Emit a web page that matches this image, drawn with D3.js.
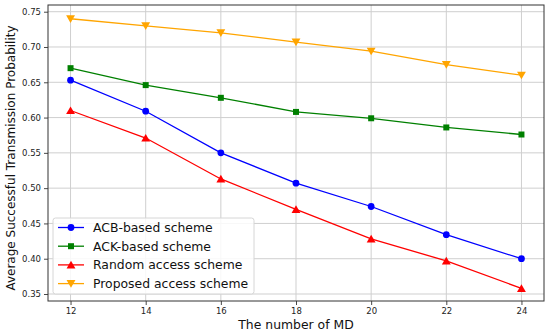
<!DOCTYPE html>
<html>
<head>
<meta charset="utf-8">
<script src="https://cdn.jsdelivr.net/npm/d3@7"></script>
<style>
  body { margin: 0; background: #fff; }
  svg { font-family: "DejaVu Sans", sans-serif; }
</style>
</head>
<body>
<svg id="chart" width="550" height="335"></svg>
<script>
// data
const mdCounts = [12, 14, 16, 18, 20, 22, 24]
const acbScheme = [0.653, 0.609, 0.550, 0.507, 0.474, 0.434, 0.400]
const ackScheme = [0.670, 0.646, 0.628, 0.608, 0.599, 0.586, 0.576]
const randomScheme = [0.610, 0.571, 0.513, 0.470, 0.428, 0.397, 0.358]
const proposedScheme = [0.740, 0.730, 0.720, 0.707, 0.694, 0.675, 0.660]
const xTicks = [12, 14, 16, 18, 20, 22, 24]
const yTicks = [0.35, 0.40, 0.45, 0.50, 0.55, 0.60, 0.65, 0.70, 0.75]

const series = [
  { name: 'ACB-based scheme', values: acbScheme, color: '#0000ff', marker: 'circle' },
  { name: 'ACK-based scheme', values: ackScheme, color: '#008000', marker: 'square' },
  { name: 'Random access scheme', values: randomScheme, color: '#ff0000', marker: 'triUp' },
  { name: 'Proposed access scheme', values: proposedScheme, color: '#ffa500', marker: 'triDown' }
]

const svg = d3.select('#chart')
const plot = { left: 48, right: 544, top: 5, bottom: 301 }

const x = d3.scaleLinear().domain([11.4, 24.6]).range([plot.left, plot.right])
const y = d3.scaleLinear().domain([0.3401, 0.7595]).range([plot.bottom, plot.top])

// grid
svg.append('g')
  .selectAll('line.vg')
  .data(xTicks)
  .enter().append('line')
  .attr('x1', d => x(d)).attr('x2', d => x(d))
  .attr('y1', plot.top).attr('y2', plot.bottom)
  .attr('stroke', '#cfcfcf').attr('stroke-width', 1)

svg.append('g')
  .selectAll('line.hg')
  .data(yTicks)
  .enter().append('line')
  .attr('x1', plot.left).attr('x2', plot.right)
  .attr('y1', d => y(d)).attr('y2', d => y(d))
  .attr('stroke', '#cfcfcf').attr('stroke-width', 1)

// axes
const xAxis = svg.append('g')
  .attr('transform', `translate(0,${plot.bottom})`)
  .call(d3.axisBottom(x).tickValues(xTicks).tickFormat(d3.format('d')).tickSize(4).tickPadding(3))
const yAxis = svg.append('g')
  .attr('transform', `translate(${plot.left},0)`)
  .call(d3.axisLeft(y).tickValues(yTicks).tickFormat(d3.format('.2f')).tickSize(4).tickPadding(3))

for (const ax of [xAxis, yAxis]) {
  ax.select('.domain').remove()
  ax.selectAll('.tick line').attr('stroke', '#333').attr('stroke-width', 0.9)
  ax.selectAll('.tick text')
    .attr('fill', '#222')
    .style('font-family', '"DejaVu Sans", sans-serif')
    .style('font-size', '8.5px')
}

// frame
svg.append('rect')
  .attr('x', plot.left).attr('y', plot.top)
  .attr('width', plot.right - plot.left).attr('height', plot.bottom - plot.top)
  .attr('fill', 'none').attr('stroke', '#333').attr('stroke-width', 1)

// markers
const symbolFor = {
  circle: d3.symbol().type(d3.symbolCircle).size(36),
  square: d3.symbol().type(d3.symbolSquare).size(36),
  triUp: d3.symbol().type(d3.symbolTriangle).size(34),
  triDown: d3.symbol().type(d3.symbolTriangle).size(34)
}
function drawMarker(g, kind, cx, cy, color) {
  const rot = kind === 'triDown' ? 180 : 0
  const dy = kind === 'triUp' ? 1 : (kind === 'triDown' ? -1 : 0)
  g.append('path')
    .attr('d', symbolFor[kind]())
    .attr('transform', `translate(${cx},${cy + dy}) rotate(${rot})`)
    .attr('fill', color)
}

const line = d3.line()
  .x((d, i) => x(mdCounts[i]))
  .y(d => y(d))

series.forEach(s => {
  const g = svg.append('g')
  g.append('path')
    .datum(s.values)
    .attr('d', line)
    .attr('fill', 'none')
    .attr('stroke', s.color)
    .attr('stroke-width', 1.3)
  s.values.forEach((v, i) => drawMarker(g, s.marker, x(mdCounts[i]), y(v), s.color))
})

// axis labels
svg.append('text')
  .attr('x', (plot.left + plot.right) / 2)
  .attr('y', 329)
  .attr('text-anchor', 'middle')
  .style('font-size', '12.4px')
  .attr('fill', '#111')
  .text('The number of MD')

svg.append('text')
  .attr('transform', 'translate(15,158) rotate(-90)')
  .attr('text-anchor', 'middle')
  .style('font-size', '12px')
  .attr('fill', '#111')
  .text('Average Successful Transmission Probability')

// legend
const legend = svg.append('g').attr('transform', 'translate(53,218)')
legend.append('rect')
  .attr('width', 201).attr('height', 76)
  .attr('rx', 2.5)
  .attr('fill', 'rgba(255,255,255,0.85)')
  .attr('stroke', '#d6d6d6').attr('stroke-width', 1)

series.forEach((s, i) => {
  const ly = 9.5 + i * 18.7
  legend.append('line')
    .attr('x1', 5).attr('x2', 31)
    .attr('y1', ly).attr('y2', ly)
    .attr('stroke', s.color).attr('stroke-width', 1.3)
  drawMarker(legend, s.marker, 18, ly, s.color)
  legend.append('text')
    .attr('x', 40).attr('y', ly + 4.4)
    .style('font-size', '12.4px')
    .attr('fill', '#111')
    .text(s.name)
})
</script>
</body>
</html>
